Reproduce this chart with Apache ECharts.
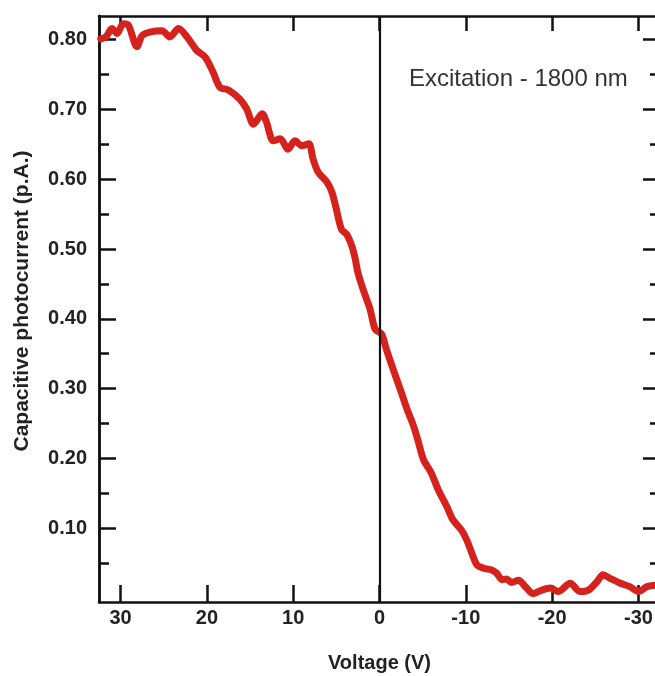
<!doctype html>
<html lang="en">
<head>
	<meta charset="UTF-8">
	<title>Capacitive photocurrent</title>
	<style>
		html, body { margin: 0; padding: 0; background: #fff; }
		#main { width: 655px; height: 676px; }
	</style>
</head>
<body>
<div id="main"></div>
<script src="https://cdn.jsdelivr.net/npm/echarts@6/dist/echarts.min.js"></script>
<script type="text/javascript">
	// data (voltage in V, current in p.A.)
	var voltage = [32.3, 31.7, 31.0, 30.4, 29.7, 29.1, 28.1, 27.5, 26.6, 25.2, 24.3, 23.3, 22.3, 21.2, 20.2,
		19.3, 18.5, 17.5, 16.2, 15.4, 14.6, 13.6, 13.1, 12.3, 11.5, 10.6, 9.8, 9.0, 8.2, 7.7, 7.1, 6.1, 5.5,
		5.0, 4.4, 3.8, 3.2, 2.8, 2.5, 1.9, 1.1, 0.5, -0.25, -0.8, -1.6, -2.4, -3.2, -3.9, -4.4, -5.1, -6.0,
		-6.8, -7.8, -8.5, -9.5, -10.1, -10.7, -11.3, -12.2, -13.0, -13.6, -14.2, -14.7, -15.3, -16.1, -16.9,
		-17.8, -18.8, -19.8, -20.7, -22.1, -23.2, -24.2, -25.2, -25.9, -26.7, -27.9, -29.0, -30.0, -31.0, -32.0];
	var current = [0.801, 0.804, 0.816, 0.809, 0.823, 0.821, 0.790, 0.806, 0.811, 0.813, 0.804, 0.816, 0.804, 0.785, 0.775,
		0.754, 0.732, 0.728, 0.715, 0.701, 0.679, 0.694, 0.682, 0.655, 0.658, 0.643, 0.655, 0.648, 0.651, 0.629, 0.610, 0.596, 0.581,
		0.557, 0.528, 0.521, 0.504, 0.485, 0.466, 0.442, 0.414, 0.385, 0.378, 0.356, 0.327, 0.299, 0.270, 0.248, 0.228, 0.198, 0.179,
		0.155, 0.131, 0.112, 0.097, 0.083, 0.064, 0.047, 0.042, 0.040, 0.035, 0.026, 0.027, 0.022, 0.025, 0.016,
		0.006, 0.011, 0.014, 0.009, 0.021, 0.009, 0.011, 0.023, 0.033, 0.028, 0.021, 0.016, 0.009, 0.016, 0.018];
	var xTicks = [30, 20, 10, 0, -10, -20, -30];
	var yTicks = [0.10, 0.20, 0.30, 0.40, 0.50, 0.60, 0.70, 0.80];
	var yMinorTicks = [0.05, 0.15, 0.25, 0.35, 0.45, 0.55, 0.65, 0.75];

	var points = voltage.map(function (v, i) { return [v, current[i]]; });

	var myChart = echarts.init(document.getElementById('main'));
	var fontFam = '"Liberation Sans", Arial, sans-serif';
	var lbl = { color: '#222', fontFamily: fontFam, fontWeight: 'bold', fontSize: 20 };
	var axLine = { show: true, onZero: false, lineStyle: { color: '#111', width: 2.5 } };

	function yAxisDef(pos, ticks, len, withLabel) {
		return {
			type: 'value', position: pos, min: -0.006, max: 0.834,
			axisLine: axLine,
			axisTick: { show: true, inside: true, length: len, customValues: ticks, lineStyle: { color: '#111', width: 2.5 } },
			axisLabel: withLabel ? Object.assign({ customValues: ticks, margin: 12, formatter: function (v) { return v.toFixed(2); } }, lbl) : { show: false },
			splitLine: { show: false },
			name: withLabel ? 'Capacitive photocurrent (p.A.)' : '',
			nameLocation: 'middle', nameGap: 66,
			nameTextStyle: Object.assign({}, lbl, { fontSize: 21, padding: [0, 0, 0, 16] })
		};
	}

	var option = {
		backgroundColor: '#fff',
		animation: false,
		title: {
			text: 'Excitation - 1800 nm',
			left: 404, top: 62,
			textStyle: { color: '#333', fontFamily: fontFam, fontWeight: 'normal', fontSize: 24 }
		},
		grid: { left: 99, top: 16, width: 561, height: 586, outerBoundsMode: 'none', containLabel: false },
		xAxis: [{
			type: 'value', position: 'bottom', inverse: true, min: -32.5, max: 32.5,
			axisLine: axLine,
			axisTick: { show: true, inside: true, length: 17, customValues: xTicks, lineStyle: { color: '#111', width: 2.5 } },
			axisLabel: Object.assign({ customValues: xTicks, margin: 6 }, lbl),
			splitLine: { show: false },
			name: 'Voltage (V)', nameLocation: 'middle', nameGap: 51, nameTextStyle: lbl
		}, {
			type: 'value', position: 'top', inverse: true, min: -32.5, max: 32.5,
			axisLine: axLine,
			axisTick: { show: true, inside: true, length: 15, customValues: xTicks, lineStyle: { color: '#111', width: 2.5 } },
			axisLabel: { show: false },
			splitLine: { show: false }
		}],
		yAxis: [
			yAxisDef('left', yTicks, 17, true),
			yAxisDef('left', yMinorTicks, 10, false),
			yAxisDef('right', yTicks, 17, false),
			yAxisDef('right', yMinorTicks, 10, false)
		],
		series: [{
			type: 'line',
			data: points,
			showSymbol: false,
			smooth: 0.3,
			lineStyle: { color: '#d6221c', width: 7, join: 'round', cap: 'round' },
			markLine: {
				silent: true, symbol: 'none', label: { show: false },
				lineStyle: { color: '#111', width: 2.2, type: 'solid' },
				data: [{ xAxis: 0 }]
			},
			z: 3
		}]
	};
	myChart.setOption(option);
</script>
</body>
</html>
